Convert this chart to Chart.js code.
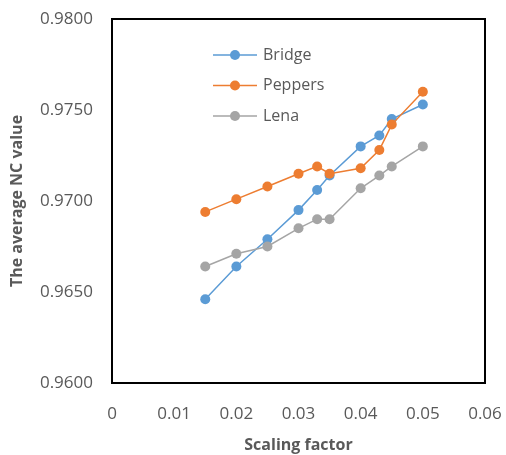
<!DOCTYPE html>
<html>
<head>
<meta charset="utf-8">
<script src="https://cdn.jsdelivr.net/npm/chart.js@4.4.1/dist/chart.umd.min.js"></script>
<style>
  html, body { margin: 0; padding: 0; background: #fff; }
  #wrap { width: 506px; height: 455px; }
</style>
</head>
<body>
<div id="wrap"><canvas id="ncChart" width="506" height="455"></canvas></div>
<script>
// data
var scaling = [0.015, 0.02, 0.025, 0.03, 0.033, 0.035, 0.04, 0.043, 0.045, 0.05];
var bridge  = [0.9646, 0.9664, 0.9679, 0.9695, 0.9706, 0.9714, 0.9730, 0.9736, 0.9745, 0.9753];
var peppers = [0.9694, 0.9701, 0.9708, 0.9715, 0.9719, 0.9715, 0.9718, 0.9728, 0.9742, 0.9760];
var lena    = [0.9664, 0.9671, 0.9675, 0.9685, 0.9690, 0.9690, 0.9707, 0.9714, 0.9719, 0.9730];
var seriesNames = ['Bridge', 'Peppers', 'Lena'];
var xTicks = [0, 0.01, 0.02, 0.03, 0.04, 0.05, 0.06];
var yTicks = [0.9600, 0.9650, 0.9700, 0.9750, 0.9800];

var colors = ['#5b9bd5', '#ed7d31', '#a5a5a5'];
var textGray = '#595959';

function toPoints(ys) {
  return scaling.map(function(x, i){ return {x: x, y: ys[i]}; });
}

function makeSet(name, ys, col, ord) {
  return {
    label: name,
    data: toPoints(ys),
    borderColor: col,
    backgroundColor: col,
    borderWidth: 1.5,
    pointRadius: 5,
    pointBorderWidth: 0,
    pointHoverRadius: 5,
    order: ord,
    tension: 0
  };
}

// box round the plot area
var boxPlugin = {
  id: 'box',
  afterDraw: function(chart) {
    var a = chart.chartArea, ctx = chart.ctx;
    ctx.save();
    ctx.strokeStyle = '#000';
    ctx.lineWidth = 2;
    ctx.strokeRect(a.left, a.top, a.right - a.left, a.bottom - a.top);
    ctx.restore();
  }
};

// legend inside the plot, like Excel
var insideLegend = {
  id: 'insideLegend',
  afterDraw: function(chart) {
    var ctx = chart.ctx;
    var x0 = 213, y0 = 55, gap = 30.5;
    ctx.save();
    ctx.font = '16px "Open Sans"';
    ctx.textBaseline = 'middle';
    chart.data.datasets.forEach(function(ds, i) {
      var y = y0 + i * gap;
      ctx.strokeStyle = ds.borderColor;
      ctx.lineWidth = 1.5;
      ctx.beginPath();
      ctx.moveTo(x0, y);
      ctx.lineTo(x0 + 44, y);
      ctx.stroke();
      ctx.fillStyle = ds.backgroundColor;
      ctx.beginPath();
      ctx.arc(x0 + 22, y, 5, 0, Math.PI * 2);
      ctx.fill();
      ctx.fillStyle = textGray;
      ctx.fillText(ds.label, x0 + 50, y);
    });
    ctx.restore();
  }
};

var ctx = document.getElementById('ncChart').getContext('2d');
var chart = new Chart(ctx, {
  type: 'line',
  data: {
    datasets: [
      makeSet(seriesNames[0], bridge, colors[0], 3),
      makeSet(seriesNames[1], peppers, colors[1], 2),
      makeSet(seriesNames[2], lena, colors[2], 1)
    ]
  },
  options: {
    responsive: false,
    animation: false,
    layout: { padding: { top: 19, right: 21, left: 0, bottom: 0 } },
    plugins: {
      legend: { display: false },
      tooltip: { enabled: false }
    },
    scales: {
      x: {
        type: 'linear',
        min: 0,
        max: 0.06,
        afterBuildTicks: function(scale) {
          scale.ticks = xTicks.map(function(v){ return {value: v}; });
        },
        afterFit: function(scale) {
          scale.height = 72;
          scale.paddingLeft = 0;
          scale.paddingRight = 0;
        },
        grid: { display: false, drawTicks: false },
        border: { display: false },
        ticks: {
          padding: 21,
          color: textGray,
          font: { family: 'Open Sans', size: 17 },
          callback: function(v) { return v === 0 ? '0' : v.toFixed(2); }
        },
        title: {
          display: true,
          text: 'Scaling factor',
          color: textGray,
          font: { family: 'Open Sans', size: 16, weight: 'bold' },
          padding: { top: 6, bottom: 0 }
        }
      },
      y: {
        type: 'linear',
        min: 0.96,
        max: 0.98,
        afterBuildTicks: function(scale) {
          scale.ticks = yTicks.map(function(v){ return {value: v}; });
        },
        afterFit: function(scale) {
          scale.width = 112;
          scale.paddingTop = 0;
          scale.paddingBottom = 0;
        },
        grid: { display: false, drawTicks: false },
        border: { display: false },
        ticks: {
          padding: 19,
          color: textGray,
          font: { family: 'Open Sans', size: 17 },
          callback: function(v) { return v.toFixed(4); }
        },
        title: {
          display: true,
          text: 'The average NC value',
          color: textGray,
          font: { family: 'Open Sans', size: 16, weight: 'bold' },
          padding: { top: 8, bottom: 0 }
        }
      }
    }
  },
  plugins: [boxPlugin, insideLegend]
});
</script>
</body>
</html>
